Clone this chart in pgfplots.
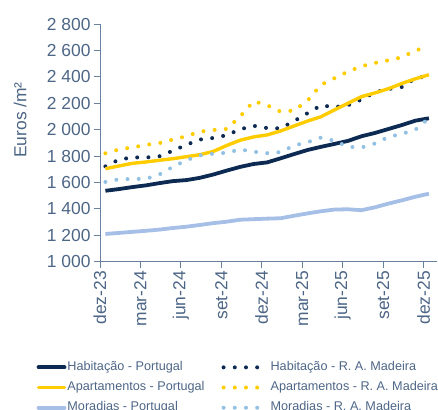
\documentclass[border=0pt]{standalone}
\usepackage{pgfplots}
\usepackage{pgfplotstable}
\pgfplotsset{compat=1.18}
\usepackage{fontspec}
\setmainfont{Liberation Sans}
\definecolor{navy}{HTML}{0D2B52}
\definecolor{gold}{HTML}{FFCC00}
\definecolor{lblue}{HTML}{A6BFE6}
\definecolor{dblue}{HTML}{92C1E3}
\definecolor{txtcol}{HTML}{4D6686}
\definecolor{axcol}{HTML}{6A819E}

\pgfplotstableread{
x hp ap mp hr ar mr
0.4 1537 1704 1210 1722 1821 1604
1.4 1550 1725 1218 1773 1850 1624
2.4 1565 1745 1226 1790 1865 1626
3.4 1578 1755 1234 1789 1885 1627
4.4 1595 1768 1243 1798 1898 1660
5.4 1610 1780 1255 1840 1925 1718
6.4 1618 1795 1265 1885 1950 1768
7.4 1635 1810 1278 1925 1985 1805
8.4 1660 1835 1292 1937 1997 1818
9.4 1690 1880 1303 1958 2005 1825
10.4 1718 1920 1318 2003 2100 1850
11.4 1740 1945 1322 2029 2215 1833
12.4 1752 1960 1326 2012 2185 1822
13.4 1783 1990 1329 2010 2136 1830
14.4 1815 2028 1348 2065 2145 1880
15.4 1846 2065 1366 2125 2220 1905
16.4 1870 2098 1382 2184 2340 1940
17.4 1892 2150 1395 2170 2390 1915
18.4 1915 2200 1397 2185 2440 1870
19.4 1950 2250 1390 2228 2480 1865
20.4 1975 2278 1412 2283 2505 1895
21.4 2005 2310 1440 2308 2525 1945
22.4 2035 2350 1465 2323 2548 1968
23.4 2068 2385 1492 2390 2600 2000
24.4 2086 2416 1515 2406 2628 2086
}\data

\tikzset{dotline/.style={line width=4bp, line cap=round, dash pattern=on 0bp off 11.2bp}}

\begin{document}
\begin{tikzpicture}
\begin{axis}[
  at={(0,0)}, anchor=south west,
  scale only axis, width=337bp, height=237.7bp,
  xmin=0, xmax=25, ymin=1000, ymax=2800,
  axis x line*=bottom, axis y line*=left,
  axis line style={draw=axcol, line width=0.8bp, -},
  tick style={draw=axcol, line width=0.8bp},
  tick align=outside, major tick length=6bp,
  xtick={0,3,...,24},
  xticklabels={dez-23,mar-24,jun-24,set-24,dez-24,mar-25,jun-25,set-25,dez-25},
  ytick={1000,1200,...,2800},
  yticklabels={1 000,1 200,1 400,1 600,1 800,2 000,2 200,2 400,2 600,2 800},
  ticklabel style={font=\fontsize{17.5}{20}\selectfont, text=txtcol},
  xticklabel style={rotate=90, anchor=east},
  ylabel={Euros /m²},
  ylabel style={font=\fontsize{17.5}{20}\selectfont, text=txtcol, at={(axis description cs:-0.237,0.596)}, anchor=center},
  legend columns=2,
  legend style={draw=none, fill=none, inner sep=0pt, outer sep=0pt,
    at={(axis description cs:-0.188,-0.415)}, anchor=north west,
    font=\fontsize{12.7}{14}\selectfont, text=txtcol,
    nodes={inner sep=1bp, text height=9bp, text depth=3bp, anchor=west},
    row sep=6.2bp,
    /tikz/every even column/.append style={column sep=16bp}},
]
\addplot[navy, line width=3.8bp, legend image code/.code={\draw[navy, line width=3.8bp, line cap=round] (0bp,0bp) -- (26bp,0bp);}] table[x=x, y=hp] {\data};
\addlegendentry{Habitação - Portugal}
\addplot[navy, dotline, legend image code/.code={\draw[navy, dotline] (1bp,0bp) -- (36bp,0bp); \path (45bp,0bp);}] table[x=x, y=hr] {\data};
\addlegendentry{Habitação - R. A. Madeira}
\addplot[gold, line width=3.4bp, legend image code/.code={\draw[gold, line width=3.4bp, line cap=round] (0bp,0bp) -- (26bp,0bp);}] table[x=x, y=ap] {\data};
\addlegendentry{Apartamentos - Portugal}
\addplot[gold, dotline, legend image code/.code={\draw[gold, dotline] (1bp,0bp) -- (36bp,0bp); \path (45bp,0bp);}] table[x=x, y=ar] {\data};
\addlegendentry{Apartamentos - R. A. Madeira}
\addplot[lblue, line width=3.8bp, legend image code/.code={\draw[lblue, line width=3.8bp, line cap=round] (0bp,0bp) -- (26bp,0bp);}] table[x=x, y=mp] {\data};
\addlegendentry{Moradias - Portugal}
\addplot[dblue, dotline, legend image code/.code={\draw[dblue, dotline] (1bp,0bp) -- (36bp,0bp); \path (45bp,0bp);}] table[x=x, y=mr] {\data};
\addlegendentry{Moradias - R. A. Madeira}
\end{axis}
\pgfresetboundingbox
\path[use as bounding box] (-100bp,-148.3bp) rectangle (338bp,261.7bp);
\end{tikzpicture}
\end{document}
